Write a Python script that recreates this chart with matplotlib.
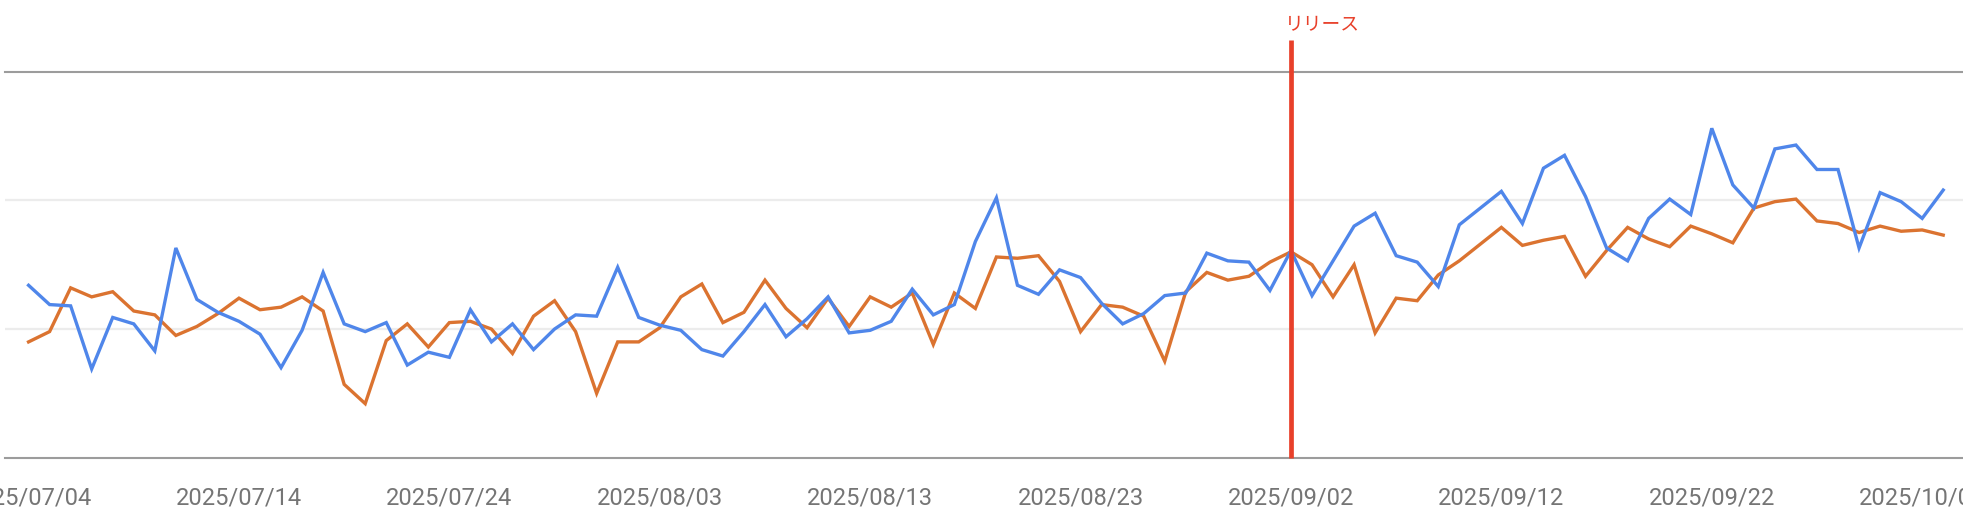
import matplotlib
matplotlib.use("Agg")
import matplotlib.pyplot as plt
import matplotlib.dates as mdates
import pandas as pd
import numpy as np

# ---- data ----
start_date = "2025-07-04"
dates = pd.date_range(start_date, periods=92, freq="D")

series_blue = [134, 119, 118, 69, 109, 104, 83, 163, 123, 113,
               106, 96, 70, 99, 144, 104, 98, 105, 72, 82,
               78, 115, 90, 104, 84, 100, 111, 110, 148, 109,
               103, 99, 84, 79, 98, 119, 94, 108, 125, 97,
               99, 106, 131, 111, 119, 168, 202, 134, 127, 146,
               140, 120, 104, 112, 126, 128, 159, 153, 152, 130,
               161, 126, 153, 180, 190, 157, 152, 133, 181, 194,
               207, 182, 225, 235, 203, 163, 153, 186, 201, 189,
               256, 212, 194, 240, 243, 224, 224, 163, 206, 199,
               186, 208]

series_orange = [90, 98, 132, 125, 129, 114, 111, 95, 102, 112,
                 124, 115, 117, 125, 114, 57, 42, 91, 104, 86,
                 105, 106, 100, 81, 110, 122, 98, 50, 90, 90,
                 101, 125, 135, 105, 113, 138, 116, 101, 124, 102,
                 125, 117, 128, 88, 128, 116, 156, 155, 157, 137,
                 98, 119, 117, 110, 75, 129, 144, 138, 141, 152,
                 160, 150, 125, 150, 97, 124, 122, 142, 153, 166,
                 179, 165, 169, 172, 141, 161, 179, 170, 164, 180,
                 174, 167, 194, 199, 201, 184, 182, 175, 180, 176,
                 177, 173]

release_date = "2025-09-02"
release_label = "リリース"

tick_dates = ["2025-07-04", "2025-07-14", "2025-07-24", "2025-08-03",
              "2025-08-13", "2025-08-23", "2025-09-02", "2025-09-12",
              "2025-09-22", "2025-10-02"]
tick_labels = ["2025/07/04", "2025/07/14", "2025/07/24", "2025/08/03",
               "2025/08/13", "2025/08/23", "2025/09/02", "2025/09/12",
               "2025/09/22", "2025/10/02"]

# ---- figure ----
W, H, DPI = 1963, 520, 100
fig = plt.figure(figsize=(W / DPI, H / DPI), dpi=DPI)
ax_left = 5 / W
ax_bottom = 1 - 457.7 / H
ax_top = 1 - 71.7 / H
ax = fig.add_axes([ax_left, ax_bottom, 1 - ax_left, ax_top - ax_bottom])

x = mdates.date2num(dates)
x0 = mdates.date2num(pd.Timestamp(start_date))
ax.set_xlim(x0 - 1.12, x0 + 91.94)
ax.set_ylim(0, 300)

ax.plot(x, series_orange, color="#db7330", lw=2.4, zorder=3,
        solid_joinstyle="miter")
ax.plot(x, series_blue, color="#4f86ea", lw=2.4, zorder=4,
        solid_joinstyle="miter")

# gridlines / frame
for s in ["left", "right"]:
    ax.spines[s].set_visible(False)
for s in ["top", "bottom"]:
    ax.spines[s].set_color("#9c9c9c")
    ax.spines[s].set_linewidth(1.5)
ax.set_yticks([100, 200])
ax.yaxis.grid(True, color="#ececec", lw=1.6)
ax.tick_params(axis="y", length=0, labelleft=False)
ax.set_axisbelow(True)

ax.set_xticks(mdates.date2num(pd.to_datetime(tick_dates)))
ax.set_xticklabels(tick_labels, fontfamily=["Roboto", "DejaVu Sans"],
                   fontsize=17, color="#757575")
ax.tick_params(axis="x", length=0, pad=21)

# release marker
xr = mdates.date2num(pd.Timestamp(release_date))
top_frac = (457.7 - 40) / (457.7 - 71.7)
ax.plot([xr, xr], [0, 300 * top_frac], color="#e8402a", lw=3.4,
        zorder=6, clip_on=False, solid_capstyle="butt")
ax.text(xr - 0.3, 300 * (457.7 - 25) / (457.7 - 71.7), release_label,
        color="#e8402a", fontsize=13.5, ha="left", va="center",
        family=["Noto Sans CJK JP", "DejaVu Sans"], clip_on=False)

fig.savefig("out.png", dpi=DPI)
